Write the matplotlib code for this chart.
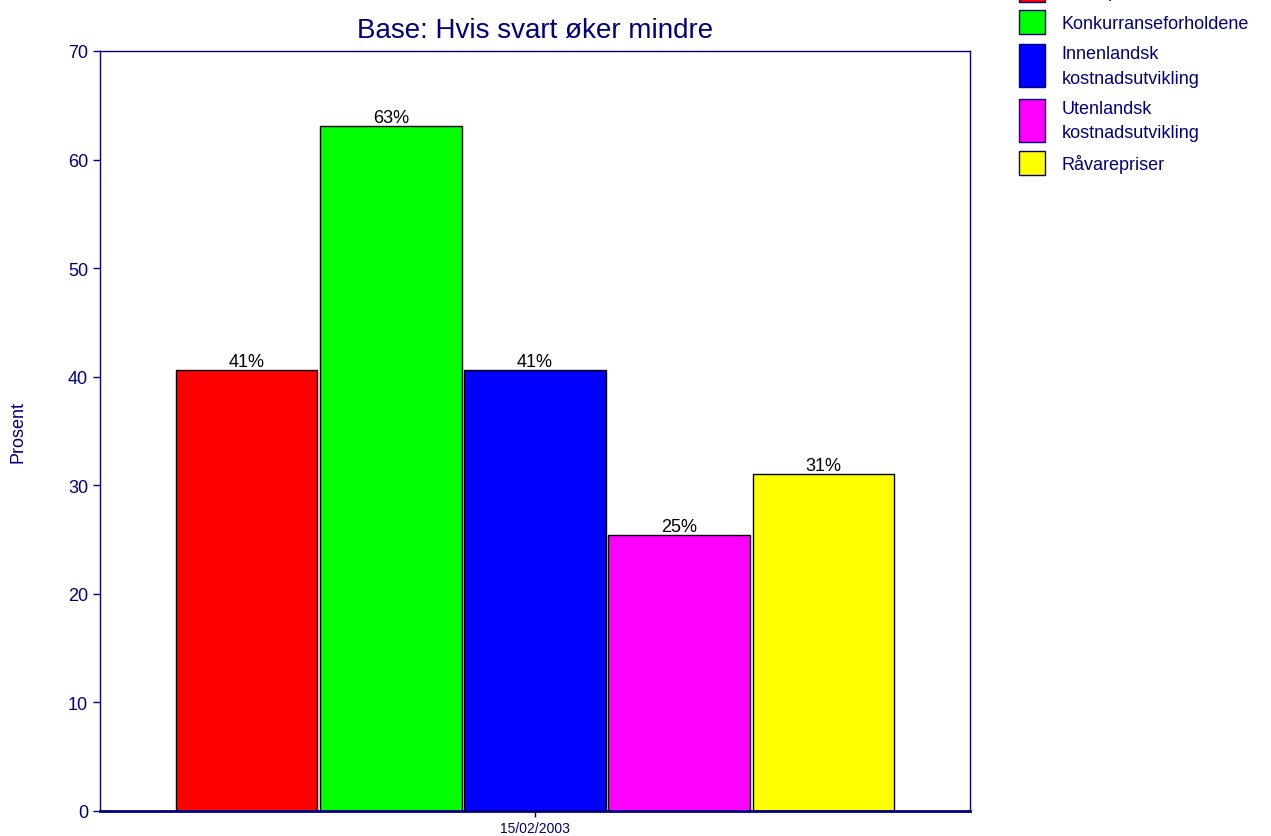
import numpy as np
import matplotlib.pyplot as plt
from matplotlib.patches import Rectangle
from matplotlib.legend_handler import HandlerPatch

plt.rcParams['font.family'] = ['Liberation Sans', 'DejaVu Sans']

# data
kategorier = ['Etterspørselen', 'Konkurranseforholdene', 'Innenlandsk\nkostnadsutvikling',
              'Utenlandsk\nkostnadsutvikling', 'Råvarepriser']
verdier = [40.6, 63.1, 40.6, 25.4, 31.0]
etiketter = ['41%', '63%', '41%', '25%', '31%']
farger = ['#ff0000', '#00ff00', '#0000ff', '#ff00ff', '#ffff00']
dato = '15/02/2003'

navy = '#000080'

fig = plt.figure(figsize=(12.71, 8.37), dpi=100)
ax = fig.add_axes([100 / 1271, 25 / 837, 870 / 1271, 760 / 837])

n = len(verdier)
gruppe = 0.828
slot = gruppe / n
bredde = slot * 0.98
xs = -gruppe / 2 + slot * (np.arange(n) + 0.5)
bars = ax.bar(xs, verdier, width=bredde, color=farger, edgecolor='black', linewidth=1)
for b, lab in zip(bars, etiketter):
    ax.text(b.get_x() + b.get_width() / 2, b.get_height(), lab,
            ha='center', va='bottom', fontsize=13, color='black')

ax.set_xlim(-0.5, 0.5)
ax.set_ylim(0, 70)
ax.set_yticks(np.arange(0, 71, 10))
ax.set_xticks([0])
ax.set_xticklabels([dato], fontsize=10, color=navy)
ax.tick_params(axis='y', colors=navy, labelsize=13, length=5, width=1)
ax.tick_params(axis='x', colors=navy, length=4, width=1)
for s in ax.spines.values():
    s.set_color(navy)
    s.set_linewidth(1)
ax.spines['bottom'].set_linewidth(2)

ax.set_title('Base: Hvis svart øker mindre', fontsize=20, color=navy, pad=10)
ax.set_ylabel('Prosent', fontsize=13, color=navy, labelpad=30)


# legend boxes stretched to the text height
def lag_boks(hoyde_px):
    def f(legend, orig_handle, xdescent, ydescent, width, height, fontsize):
        h = hoyde_px * 0.72
        return Rectangle((-xdescent, -ydescent + height / 2 - h / 2), width, h)
    return f


handles = [Rectangle((0, 0), 1, 1, facecolor=c, edgecolor=navy, linewidth=1) for c in farger]
hmap = {}
for hd, lab in zip(handles, kategorier):
    hmap[hd] = HandlerPatch(patch_func=lag_boks(43 if '\n' in lab else 24))

leg = fig.legend(handles, kategorier, handler_map=hmap, loc='upper left',
                 bbox_to_anchor=(1012 / 1271, 1 + 24 / 837), frameon=False,
                 fontsize=13, handlelength=1.45, handleheight=1.0,
                 handletextpad=0.9, labelspacing=0.72, borderaxespad=0)
for t in leg.get_texts():
    t.set_color(navy)
    t.set_linespacing(1.6)

fig.savefig('out.png', dpi=100)
